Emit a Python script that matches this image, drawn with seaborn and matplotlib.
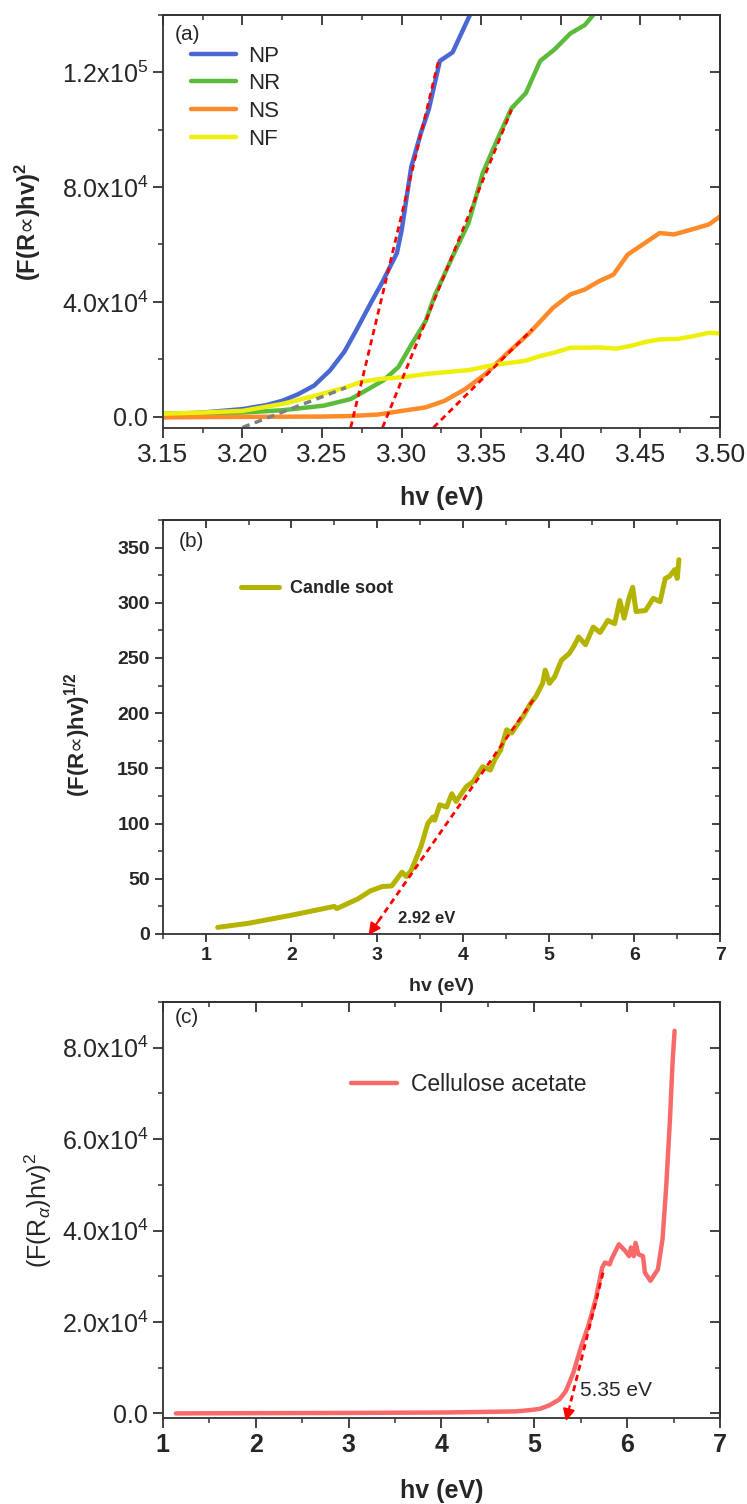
import numpy as np
import pandas as pd
import matplotlib
matplotlib.use("Agg")
import matplotlib.pyplot as plt
from matplotlib.ticker import MultipleLocator
import seaborn as sns

# ---------------- data ----------------
np_x = [3.15, 3.175, 3.20, 3.215, 3.225, 3.235, 3.245, 3.255, 3.264, 3.271, 3.281, 3.288, 3.297,
        3.300, 3.306, 3.312, 3.317, 3.324, 3.332, 3.342, 3.350]
np_y = [800, 1400, 2600, 4000, 5500, 7800, 10800, 16100, 22600, 29600, 40000, 47000, 57000,
        65000, 87000, 98800, 107000, 124000, 127000, 139000, 148000]
nr_x = [3.15, 3.20, 3.225, 3.251, 3.268, 3.281, 3.289, 3.298, 3.306, 3.315, 3.321, 3.333, 3.342,
        3.351, 3.360, 3.369, 3.378, 3.387, 3.396, 3.406, 3.415, 3.423, 3.432]
nr_y = [1000, 1400, 2200, 3800, 6100, 10200, 12800, 17300, 25000, 33200, 42500, 57000, 67500,
        85000, 96500, 107500, 112800, 124000, 128000, 133600, 136500, 141800, 145000]
ns_x = [3.15, 3.20, 3.25, 3.268, 3.285, 3.298, 3.315, 3.327, 3.340, 3.353, 3.365, 3.380, 3.395,
        3.406, 3.415, 3.424, 3.433, 3.442, 3.453, 3.462, 3.471, 3.482, 3.493, 3.50]
ns_y = [-300, -100, 0, 200, 700, 1800, 3200, 5500, 9600, 15000, 21400, 29000, 37900,
        42600, 44300, 47200, 49500, 56500, 60600, 64000, 63500, 65200, 67000, 69800]
nf_x = [3.15, 3.175, 3.20, 3.225, 3.246, 3.265, 3.275, 3.288, 3.302, 3.316, 3.342, 3.357, 3.378,
        3.387, 3.396, 3.406, 3.415, 3.424, 3.435, 3.445, 3.453, 3.462, 3.474, 3.483, 3.493, 3.50]
nf_y = [1000, 1400, 2000, 4400, 7300, 10200, 12200, 13200, 13800, 14900, 16200, 17900, 19500,
        21100, 22300, 24000, 24000, 24100, 23700, 24800, 26000, 26900, 27100, 28000, 29200, 29000]
a_series = ["NP", "NR", "NS", "NF"]
a_colors = ["#4a68d4", "#5cbb3a", "#ff8a2a", "#eef00c"]
# tangent lines (x0, y0, x1, y1)
a_tangents = [(3.268, -3800, 3.323, 123800), (3.288, -3800, 3.369, 107000),
              (3.320, -3800, 3.382, 30400)]
a_gray_tangent = (3.200, -3800, 3.265, 10100)
a_yticks = [0, 40000, 80000, 120000]
a_yticklabels = ["0.0", "4.0x10$^4$", "8.0x10$^4$", "1.2x10$^5$"]
a_xticks = [3.15, 3.20, 3.25, 3.30, 3.35, 3.40, 3.45, 3.50]
a_xticklabels = ["3.15", "3.20", "3.25", "3.30", "3.35", "3.40", "3.45", "3.50"]

cs_x = [1.14, 1.50, 2.00, 2.50, 2.53, 2.78, 2.92, 3.06, 3.17, 3.29, 3.34, 3.40, 3.51, 3.59, 3.65,
        3.67, 3.73, 3.81, 3.87, 3.92, 4.04, 4.12, 4.23, 4.32, 4.37, 4.44, 4.51, 4.57, 4.62, 4.71,
        4.79, 4.85, 4.93, 4.96, 5.01, 5.07, 5.15, 5.24, 5.29, 5.35, 5.43, 5.52, 5.60, 5.69, 5.77,
        5.83, 5.88, 5.94, 5.98, 6.02, 6.13, 6.22, 6.30, 6.36, 6.41, 6.47, 6.50, 6.52]
cs_y = [6, 9.7, 17, 25, 23, 32, 39, 43, 43.5, 56, 52, 58, 79, 100, 106,
        103, 117, 115, 127, 120, 133.5, 138, 151.5, 148.5, 157.6, 166.7, 185, 182, 188, 198,
        209, 215, 227, 239, 227, 233, 248, 254, 260, 269, 262, 278, 273, 284, 281,
        302, 286, 305, 314, 292, 293, 304, 301, 322, 324, 330, 322, 339]
b_arrow = (4.82, 212, 2.90, -1)
b_gap_label = "2.92 eV"

ca_x = [1.14, 2.0, 3.0, 4.0, 4.39, 4.80, 4.96, 5.06, 5.16, 5.27, 5.34, 5.42, 5.50, 5.58, 5.66,
        5.73, 5.76, 5.81, 5.83, 5.91, 5.98, 6.02, 6.04, 6.07, 6.09, 6.12, 6.17, 6.19, 6.25,
        6.33, 6.38, 6.42, 6.46, 6.49, 6.51]
ca_y = [0, 50, 100, 200, 300, 440, 730, 1000, 1750, 3060, 4900, 8900, 14400, 19100, 24900,
        31900, 33000, 32600, 33700, 37000, 35500, 34400, 36300, 34400, 37300, 34800, 34400, 30800, 29000,
        31500, 38100, 49700, 64300, 77500, 83700]
c_arrow = (5.74, 30800, 5.34, -1700)
c_gap_label = "5.35 eV"
c_yticks = [0, 20000, 40000, 60000, 80000]
c_yticklabels = ["0.0", "2.0x10$^4$", "4.0x10$^4$", "6.0x10$^4$", "8.0x10$^4$"]

# ---------------- style ----------------
sns.set_style("ticks")
plt.rcParams["font.family"] = ["Liberation Sans", "DejaVu Sans"]
plt.rcParams["mathtext.fontset"] = "custom"
plt.rcParams["mathtext.rm"] = "Liberation Sans"
plt.rcParams["mathtext.it"] = "Liberation Sans:italic"
plt.rcParams["mathtext.bf"] = "Liberation Sans:bold"
plt.rcParams["mathtext.sf"] = "DejaVu Sans"
plt.rcParams["axes.edgecolor"] = "#333333"
plt.rcParams["axes.linewidth"] = 1.3

fig = plt.figure(figsize=(7.47, 15.04), dpi=100)
axA = fig.add_axes([0.218, 0.7154, 0.746, 0.2746])
axB = fig.add_axes([0.218, 0.379, 0.746, 0.2753])
axC = fig.add_axes([0.218, 0.0572, 0.746, 0.2766])

DASH = (0, (2.2, 1.6))
PROP = "$\\mathsf{\u221d}$"


def frame(ax, xmin, ymin, ticklen=7):
    ax.xaxis.set_minor_locator(MultipleLocator(xmin))
    ax.yaxis.set_minor_locator(MultipleLocator(ymin))
    ax.tick_params(which="major", direction="out", length=ticklen, width=1.3, color="#333333")
    ax.tick_params(which="minor", direction="out", length=ticklen * 0.55, width=1.1, color="#333333")
    top = ax.secondary_xaxis("top")
    top.set_xticks(ax.get_xticks())
    top.xaxis.set_minor_locator(MultipleLocator(xmin))
    top.tick_params(which="major", direction="in", length=ticklen, width=1.3, labeltop=False, color="#333333")
    top.tick_params(which="minor", direction="in", length=ticklen * 0.55, width=1.1, color="#333333")
    right = ax.secondary_yaxis("right")
    right.set_yticks(ax.get_yticks())
    right.yaxis.set_minor_locator(MultipleLocator(ymin))
    right.tick_params(which="major", direction="in", length=ticklen, width=1.3, labelright=False, color="#333333")
    right.tick_params(which="minor", direction="in", length=ticklen * 0.55, width=1.1, color="#333333")


def dashed_arrow(ax, x0, y0, x1, y1, frac=0.06):
    # dashed shaft, solid head at (x1, y1)
    xm = x1 + (x0 - x1) * frac
    ym = y1 + (y0 - y1) * frac
    ax.plot([x0, xm], [y0, ym], ls=DASH, color="red", lw=2, clip_on=False)
    ax.annotate("", xy=(x1, y1), xytext=(xm, ym), annotation_clip=False,
                arrowprops=dict(arrowstyle="-|>,head_length=0.7,head_width=0.35",
                                color="red", lw=1.5, shrinkA=0, shrinkB=0))


# ---------------- panel (a) ----------------
dfa = pd.concat([
    pd.DataFrame({"x": np_x, "y": np_y, "s": "NP"}),
    pd.DataFrame({"x": nr_x, "y": nr_y, "s": "NR"}),
    pd.DataFrame({"x": ns_x, "y": ns_y, "s": "NS"}),
    pd.DataFrame({"x": nf_x, "y": nf_y, "s": "NF"}),
])
sns.lineplot(data=dfa, x="x", y="y", hue="s", hue_order=a_series, palette=a_colors,
             lw=3.2, sort=False, estimator=None, ax=axA)
for (x0, y0, x1, y1) in a_tangents:
    axA.plot([x0, x1], [y0, y1], ls=DASH, color="red", lw=2)
gx0, gy0, gx1, gy1 = a_gray_tangent
axA.plot([gx0, gx1], [gy0, gy1], ls=DASH, color="#808080", lw=2.5)
axA.set_xlim(3.15, 3.50)
axA.set_ylim(-4000, 140000)
axA.set_xticks(a_xticks)
axA.set_xticklabels(a_xticklabels, fontsize=19)
axA.set_yticks(a_yticks)
axA.set_yticklabels(a_yticklabels, fontsize=18)
frame(axA, 0.025, 20000)
axA.set_xlabel("hv (eV)", fontsize=18, fontweight="bold", labelpad=14)
axA.set_ylabel("(F(R" + PROP + ")hv)$^\\mathbf{2}$", fontsize=17, fontweight="bold")
axA.yaxis.set_label_coords(-0.215, 0.5)
axA.legend(loc="upper left", bbox_to_anchor=(0.051, 0.926), frameon=False, fontsize=16,
           handlelength=2.0, handletextpad=0.55, labelspacing=0.3, borderpad=0, borderaxespad=0)
axA.text(0.022, 0.977, "(a)", transform=axA.transAxes, fontsize=15, va="top", ha="left")

# ---------------- panel (b) ----------------
dfb = pd.DataFrame({"x": cs_x, "y": cs_y, "s": "Candle soot"})
sns.lineplot(data=dfb, x="x", y="y", hue="s", palette=["#b4b400"], lw=3.6, sort=False,
             estimator=None, ax=axB)
dashed_arrow(axB, *b_arrow)
axB.text(3.24, 14.4, b_gap_label, fontsize=12, fontweight="bold", va="center", ha="left")
axB.set_xlim(0.5, 7)
axB.set_ylim(0, 375)
axB.set_xticks([1, 2, 3, 4, 5, 6, 7])
axB.set_yticks([0, 50, 100, 150, 200, 250, 300, 350])
axB.tick_params(labelsize=14)
for lab in axB.get_xticklabels() + axB.get_yticklabels():
    lab.set_fontweight("bold")
frame(axB, 0.5, 25, ticklen=6)
axB.set_xlabel("hv (eV)", fontsize=14, fontweight="bold", labelpad=10)
axB.set_ylabel("(F(R" + PROP + ")hv)$^{\\mathbf{1/2}}$", fontsize=16, fontweight="bold")
axB.yaxis.set_label_coords(-0.125, 0.48)
legB = axB.legend(loc="upper left", bbox_to_anchor=(0.14, 0.855), frameon=False, fontsize=13,
                  handlelength=2.1, handletextpad=0.6, borderpad=0, borderaxespad=0)
for t in legB.get_texts():
    t.set_fontweight("bold")
axB.text(0.029, 0.972, "(b)", transform=axB.transAxes, fontsize=15, va="top", ha="left")

# ---------------- panel (c) ----------------
dfc = pd.DataFrame({"x": ca_x, "y": ca_y, "s": "Cellulose acetate"})
sns.lineplot(data=dfc, x="x", y="y", hue="s", palette=["#f86a6a"], lw=3.2, sort=False,
             estimator=None, ax=axC)
dashed_arrow(axC, *c_arrow, frac=0.1)
axC.text(5.49, 5000, c_gap_label, fontsize=15, va="center", ha="left")
axC.set_xlim(1, 7)
axC.set_ylim(-1000, 90000)
axC.set_xticks([1, 2, 3, 4, 5, 6, 7])
axC.set_xticklabels(["1", "2", "3", "4", "5", "6", "7"], fontsize=18, fontweight="bold")
axC.set_yticks(c_yticks)
axC.set_yticklabels(c_yticklabels, fontsize=18)
frame(axC, 0.5, 10000)
axC.set_xlabel("hv (eV)", fontsize=18, fontweight="bold", labelpad=16)
axC.set_ylabel("(F(R$_\\alpha$)hv)$^2$", fontsize=18)
axC.yaxis.set_label_coords(-0.195, 0.5)
axC.legend(loc="upper left", bbox_to_anchor=(0.338, 0.83), frameon=False, fontsize=16.5,
           handlelength=2.0, handletextpad=0.6, borderpad=0, borderaxespad=0)
axC.text(0.022, 0.985, "(c)", transform=axC.transAxes, fontsize=15, va="top", ha="left")

fig.savefig("out.png", dpi=100)
